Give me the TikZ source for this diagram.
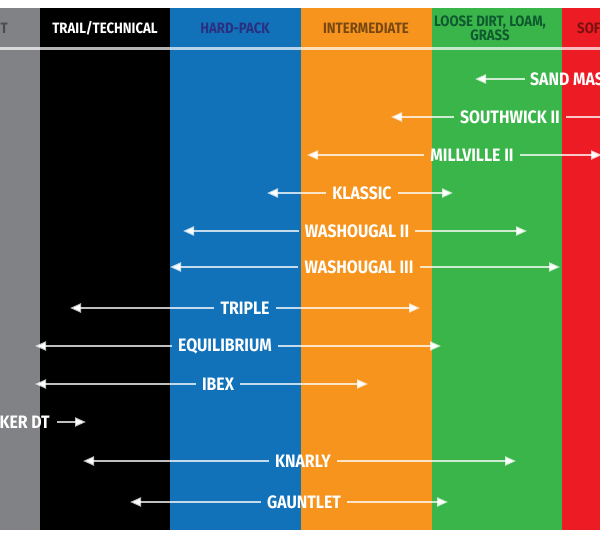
\documentclass[tikz,border=0pt]{standalone}
\usepackage{fontspec}
\setmainfont{Fira Sans}[FakeStretch=0.88]
\usetikzlibrary{arrows.meta}
\definecolor{cgray}{HTML}{808285}
\definecolor{cblue}{HTML}{1172BA}
\definecolor{corange}{HTML}{F7941D}
\definecolor{cgreen}{HTML}{39B54A}
\definecolor{cred}{HTML}{ED1C24}
\tikzset{
  lbl/.style={text=white,font=\bfseries\fontsize{18}{18}\selectfont,inner sep=0pt,anchor=center},
  hdr/.style={font=\bfseries\fontsize{15}{14}\selectfont,inner sep=0pt,align=center},
  arr/.style={draw=white,draw opacity=0.75,line width=2.2pt,-{Triangle[length=11pt,width=9pt]}},
}
\begin{document}
\begin{tikzpicture}[x=1pt,y=-1pt]
\useasboundingbox (0,0) rectangle (600,540);
\clip (0,0) rectangle (600,540);
\fill[white] (0,0) rectangle (600,540);
\fill[cgray] (0,8) rectangle (40,530);
\fill[black] (40,8) rectangle (170,530);
\fill[cblue] (170,8) rectangle (301,530);
\fill[corange] (301,8) rectangle (432,530);
\fill[cgreen] (432,8) rectangle (562,530);
\fill[cred] (562,8) rectangle (600,530);
\fill[white,opacity=0.7] (0,47.5) rectangle (600,50.5);
% headers
\node[hdr,text=black!70,anchor=east] (h0) at (8,28) {T};
\node[hdr,text=white] (h1) at (105,28) {TRAIL/TECHNICAL};
\node[hdr,text={rgb,255:red,43;green,47;blue,127}] (h2) at (235,28) {HARD-PACK};
\node[hdr,text={rgb,255:red,120;green,72;blue,20}] (h3) at (366,28) {INTERMEDIATE};
\node[hdr,text={rgb,255:red,15;green,90;blue,46}] (h4) at (490,28) {LOOSE DIRT, LOAM,\\GRASS};
\node[hdr,text={rgb,255:red,125;green,15;blue,15},anchor=west] (h5) at (577,28) {SOFT};
% rows
\node[lbl,anchor=west] (t1) at (530,79) {SAND MASTER};
\coordinate (a1) at (475,79);
\draw[arr] (t1.west) ++(-5,0) -- (a1);
\node[lbl] (t2) at (510,117) {SOUTHWICK II};
\coordinate (a2l) at (391,117); \coordinate (a2r) at (610,117);
\draw[arr] ([xshift=-6pt]t2.west) -- (a2l);
\draw[draw=white,draw opacity=0.75,line width=2.2pt] ([xshift=6pt]t2.east) -- (a2r);
\node[lbl] (t3) at (472,155) {MILLVILLE II};
\coordinate (a3l) at (307,155); \coordinate (a3r) at (602,155);
\draw[arr] ([xshift=-6pt]t3.west) -- (a3l);
\draw[arr] ([xshift=6pt]t3.east) -- (a3r);
\node[lbl] (t4) at (362,193) {KLASSIC};
\node[lbl] (t5) at (357,231) {WASHOUGAL II};
\node[lbl] (t6) at (359,267) {WASHOUGAL III};
\node[lbl] (t7) at (245,308) {TRIPLE};
\node[lbl] (t8) at (225,346) {EQUILIBRIUM};
\node[lbl] (t9) at (218,384) {IBEX};
\node[lbl,anchor=east] (t10) at (50,422) {SPEAKER DT};
\node[lbl] (t11) at (303,461) {KNARLY};
\node[lbl] (t12) at (304,502) {GAUNTLET};
\foreach \n/\l/\r/\y in {t4/267/453/193,t5/183/527/231,t6/170/560/267,t7/70/420/308,t8/35/441/346,t9/35/368/384,t11/83/516/461,t12/130/448/502}{
  \coordinate (\n l) at (\l,\y);
  \coordinate (\n r) at (\r,\y);
  \draw[arr] ([xshift=-6pt]\n.west) -- (\n l);
  \draw[arr] ([xshift=6pt]\n.east) -- (\n r);
}
\coordinate (t10r) at (86,422);
\draw[arr] ([xshift=7pt]t10.east) -- (t10r);
\end{tikzpicture}
\end{document}
